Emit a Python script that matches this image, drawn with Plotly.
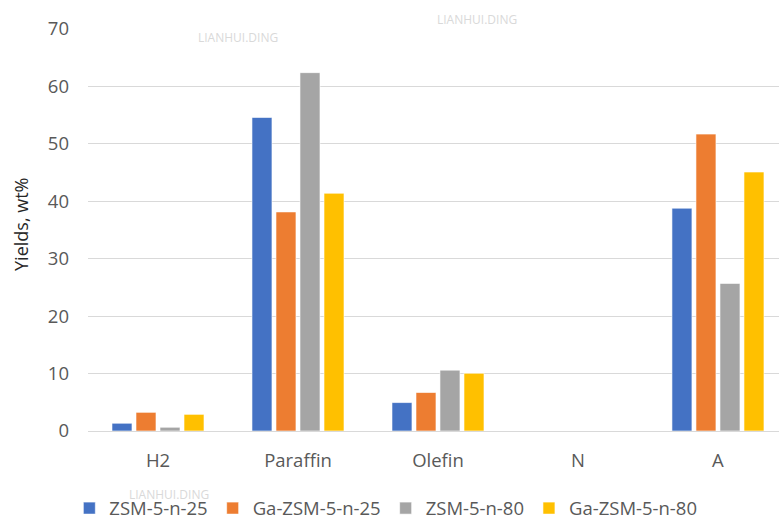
import plotly.graph_objects as go

# Product categories and yields (wt%) for each catalyst
categories = ["H2", "Paraffin", "Olefin", "N", "A"]
zsm5_n25 = [1.35, 54.6, 4.95, 0, 38.8]
ga_zsm5_n25 = [3.25, 38.15, 6.7, 0, 51.7]
zsm5_n80 = [0.65, 62.4, 10.6, 0, 25.7]
ga_zsm5_n80 = [2.9, 41.4, 10.05, 0, 45.1]

series_names = ["ZSM-5-n-25", "Ga-ZSM-5-n-25", "ZSM-5-n-80", "Ga-ZSM-5-n-80"]
series_values = [zsm5_n25, ga_zsm5_n25, zsm5_n80, ga_zsm5_n80]
colors = ["#4472C4", "#ED7D31", "#A5A5A5", "#FFC000"]

FONT = "Open Sans"
LABEL_SIZE = 18.5

fig = go.Figure()
for name, vals, col in zip(series_names, series_values, colors):
    fig.add_trace(go.Bar(
        x=categories, y=vals, name=name,
        marker=dict(color=col, line=dict(color="rgba(255,255,255,0.6)", width=1)),
    ))

fig.update_layout(
    width=779, height=522,
    margin=dict(l=88, r=0, t=29, b=91, autoexpand=False),
    paper_bgcolor="white", plot_bgcolor="white",
    barmode="group", bargap=0.314, bargroupgap=0.167,
    font=dict(family=FONT, size=LABEL_SIZE, color="#595959"),
    showlegend=True,
    legend=dict(
        orientation="h", xref="paper", yref="paper",
        x=-0.027, y=-0.193, xanchor="left", yanchor="middle",
        bgcolor="rgba(0,0,0,0)",
        font=dict(family=FONT, size=LABEL_SIZE, color="#595959"),
        itemwidth=30, traceorder="normal",
    ),
    xaxis=dict(
        type="category", range=[-0.5, 4.436],
        showgrid=False, zeroline=False,
        showline=True, linecolor="#d9d9d9", linewidth=1.3,
        ticks="", ticklabelstandoff=13,
        tickfont=dict(family=FONT, size=LABEL_SIZE, color="#595959"),
    ),
    yaxis=dict(
        range=[0, 70], dtick=10,
        showgrid=True, gridcolor="#d9d9d9", gridwidth=1.3,
        zeroline=False, showline=False,
        ticks="", ticklabelstandoff=18,
        tickfont=dict(family=FONT, size=LABEL_SIZE, color="#595959"),
    ),
)

# Axis title
fig.add_annotation(
    text="Yields, wt%", textangle=-90,
    xref="paper", yref="paper", x=-0.097, y=0.515,
    xanchor="center", yanchor="middle", showarrow=False,
    font=dict(family=FONT, size=18, color="#262626"),
)

# Faint watermark labels
for wx, wy in [(238, 37), (477, 19), (169, 494)]:
    fig.add_annotation(
        text="LIANHUI.DING", xref="paper", yref="paper",
        x=(wx - 88) / 691, y=(431 - wy) / 402,
        xanchor="center", yanchor="middle", showarrow=False,
        font=dict(family=FONT, size=12, color="#d9d9d9"),
    )

fig.write_html("out.html")
